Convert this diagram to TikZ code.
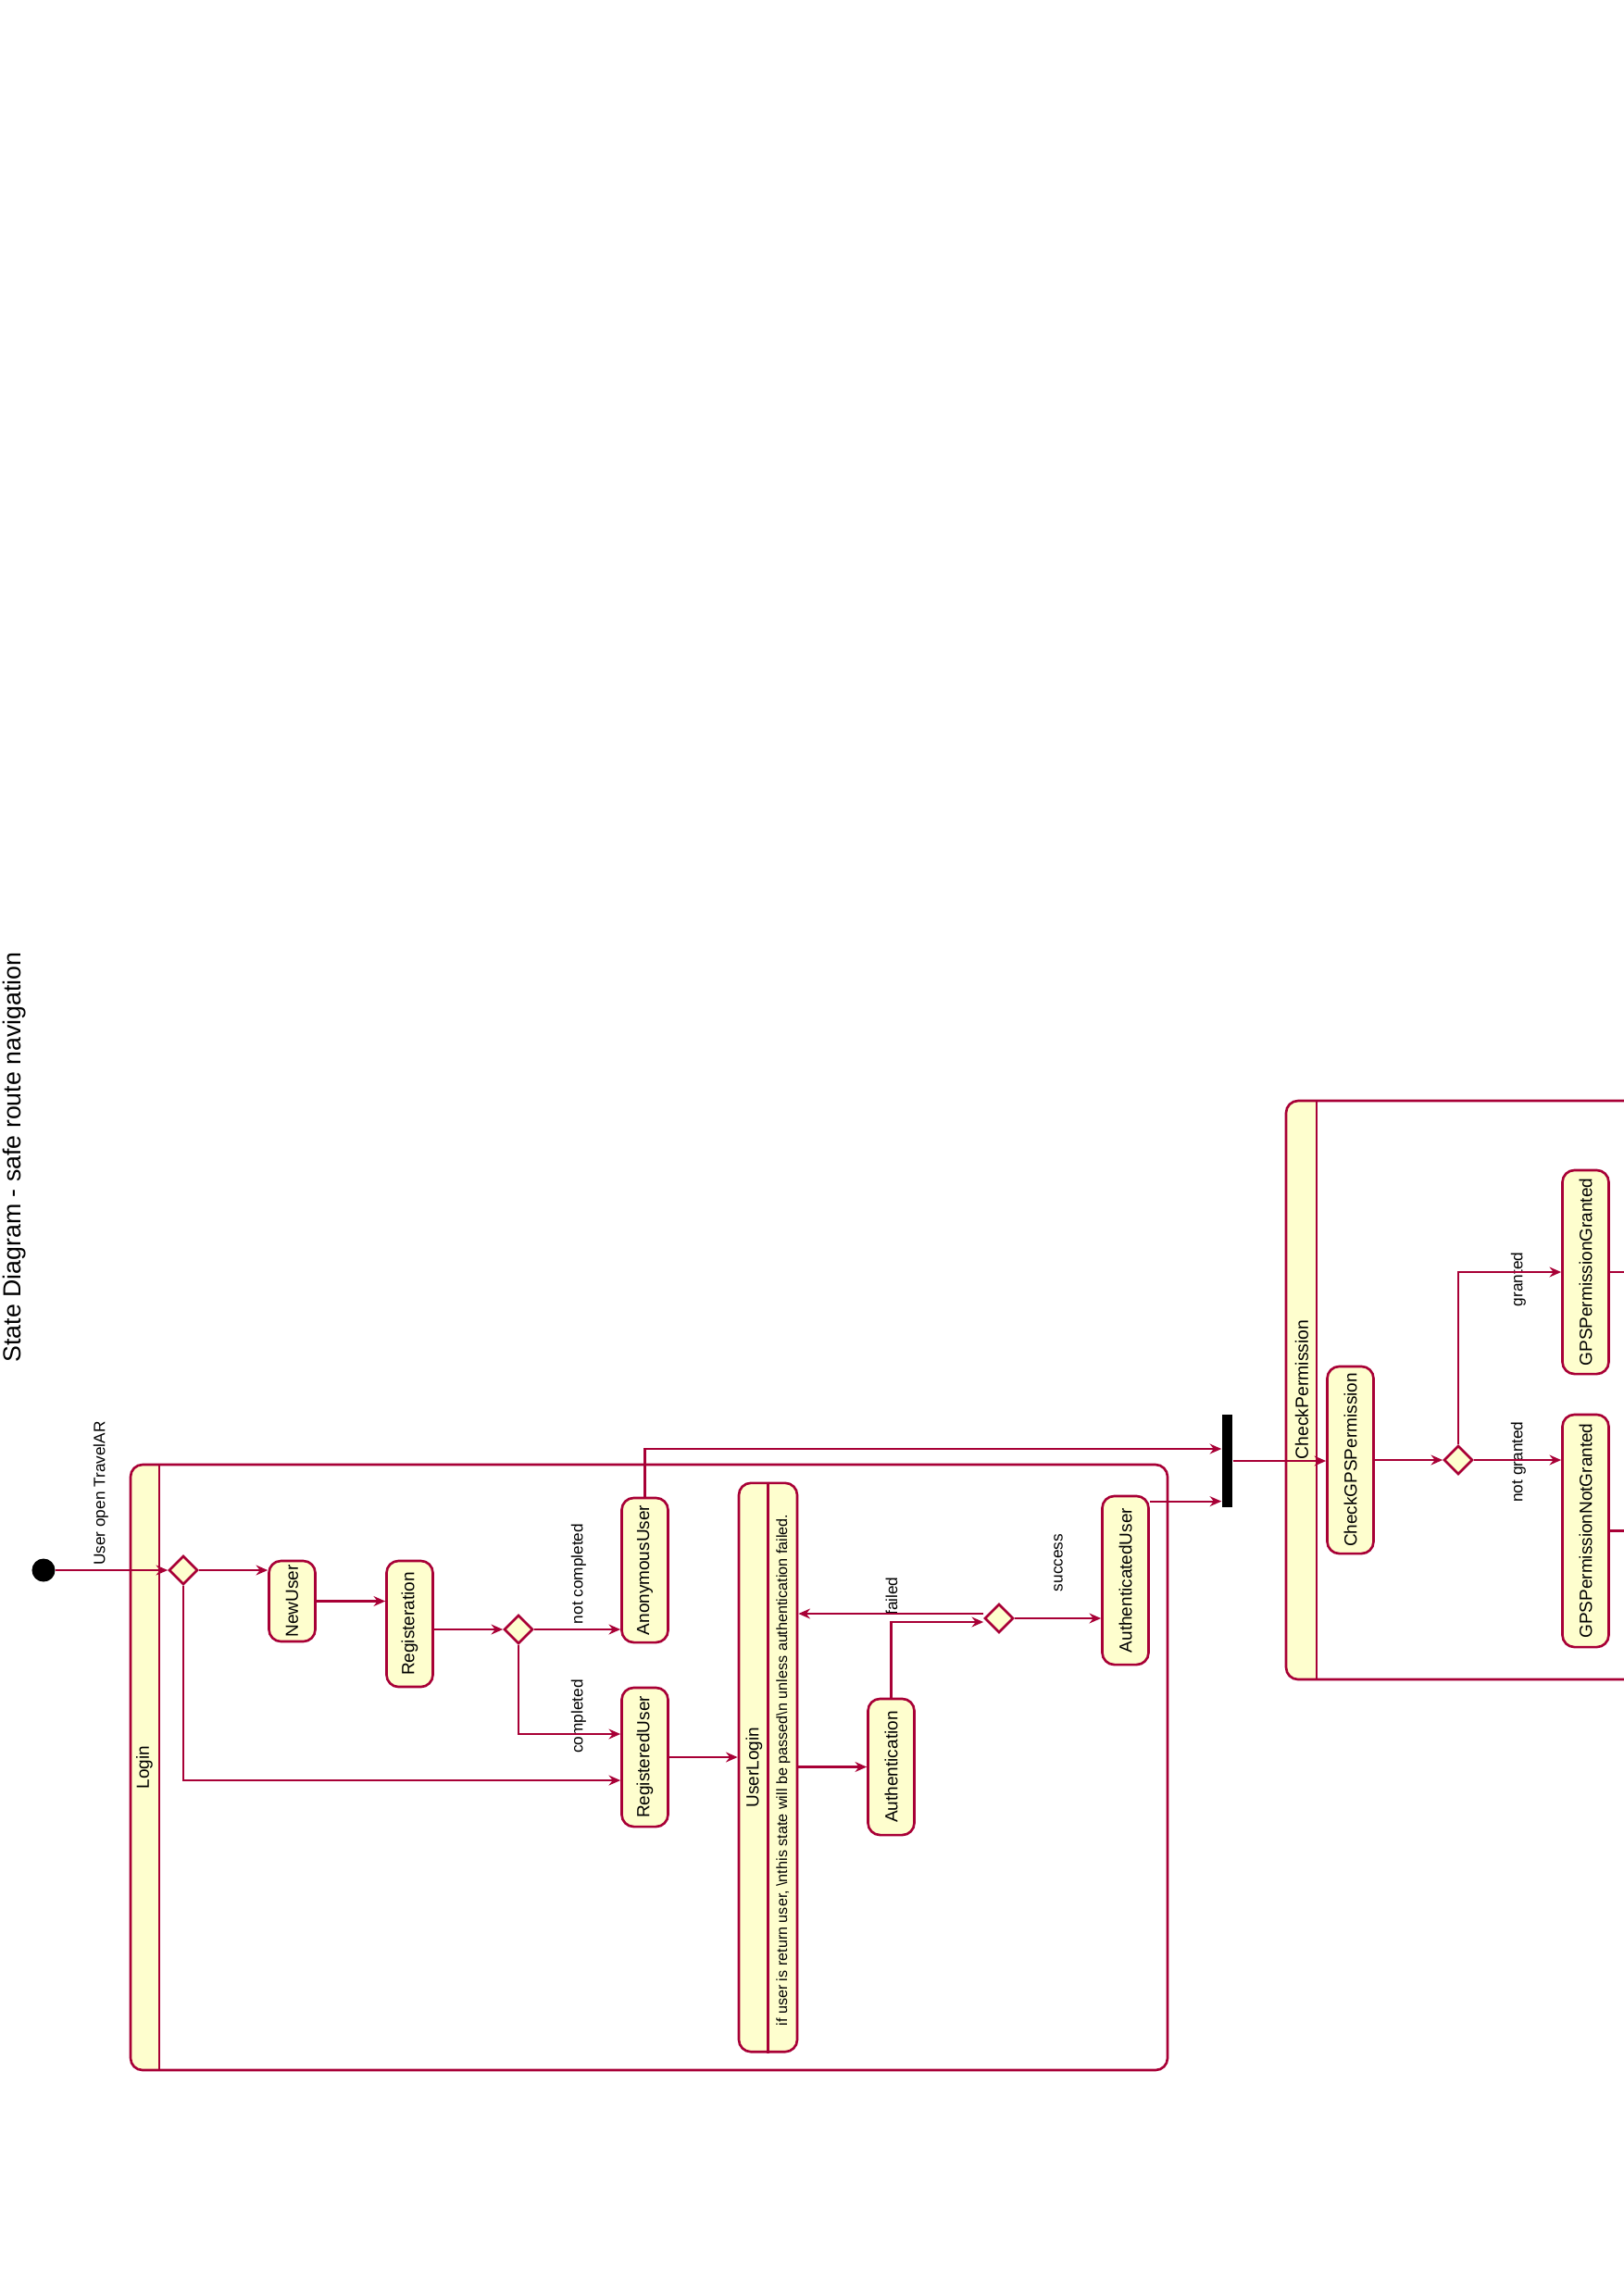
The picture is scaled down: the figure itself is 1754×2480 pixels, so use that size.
\documentclass[tikz,border=0pt]{standalone}
\usepackage{fontspec}
\setmainfont{Liberation Sans}
\usepackage{graphicx}
\usetikzlibrary{arrows.meta, positioning, shapes.geometric}
\definecolor{umlred}{HTML}{A80036}
\definecolor{umlfill}{HTML}{FEFECE}
\newcommand{\sidetext}[1]{\rotatebox{90}{#1}}

\begin{document}
\begin{tikzpicture}[x=0.01cm, y=-0.01cm,
  state/.style={draw=umlred, fill=umlfill, line width=0.75pt,
                rounded corners=0.13cm, minimum width=0.5cm, inner sep=0pt,
                font=\fontsize{5.4}{6}\selectfont},
  choice/.style={diamond, draw=umlred, fill=umlfill, line width=0.75pt,
                 minimum width=0.31cm, minimum height=0.31cm, inner sep=0pt},
  lbl/.style={inner sep=0pt, font=\fontsize{4.9}{6}\selectfont},
  frame/.style={draw=umlred, line width=0.75pt, rounded corners=0.13cm},
  arr/.style={-{Stealth[length=3.6pt, width=3.1pt, inset=1.2pt]}, draw=umlred,
              line width=0.6pt},
  wire/.style={draw=umlred, line width=0.6pt}
]
  \useasboundingbox (0,0) rectangle (1754,2480);
  \fill[white] (0,0) rectangle (1754,2480);
  \clip (0,0) rectangle (1754,2480);

  % Title
  \node[inner sep=0pt, font=\fontsize{7.6}{9}\selectfont] (title) at (16,1250)
    {\sidetext{State Diagram - safe route navigation}};

  % Login composite
  \begin{scope}
    \clip (141,1582) rectangle (172,2236);
    \fill[umlfill, rounded corners=0.13cm] (141,1582) rectangle (1261,2236);
  \end{scope}
  \draw[frame] (141,1582) rectangle (1261,2236);
  \draw[frame] (172,1582) -- (172,2236);
  \node[inner sep=0pt, font=\fontsize{5.4}{6}\selectfont] (login) at (156,1909) {\sidetext{Login}};

  % CheckPermission composite
  \begin{scope}
    \clip (1389,1189) rectangle (1422,1814);
    \fill[umlfill, rounded corners=0.13cm] (1389,1189) rectangle (1800,1814);
  \end{scope}
  \draw[frame] (1389,1189) rectangle (1800,1814);
  \draw[frame] (1422,1189) -- (1422,1814);
  \node[inner sep=0pt, font=\fontsize{5.5}{6}\selectfont] (checkperm) at (1406,1501) {\sidetext{CheckPermission}};

  % States
  \node[circle, fill=black, minimum size=0.25cm, inner sep=0pt] (start) at (47,1696) {};
  \node[choice] (d1) at (198,1696) {};
  \node[state, minimum height=0.87cm] (newuser) at (315.5,1729.5) {\sidetext{NewUser}};
  \node[state, minimum height=1.36cm] (regist) at (442.5,1754) {\sidetext{Registeration}};
  \node[choice] (d2) at (560,1760) {};
  \node[state, minimum height=1.56cm] (anon) at (696.5,1696) {\sidetext{AnonymousUser}};
  \node[state, minimum height=1.50cm] (reguser) at (696.5,1898) {\sidetext{RegisteredUser}};
  \node[state, minimum width=0.63cm, minimum height=6.14cm] (userlogin) at (829.5,1909) {};
  \draw[frame] ([xshift=0.33cm]userlogin.north west) -- ([xshift=0.33cm]userlogin.south west);
  \node[inner sep=0pt, font=\fontsize{5.4}{6}\selectfont] (ulname) at (814.5,1909) {\sidetext{UserLogin}};
  \node[inner sep=0pt, font=\fontsize{4.6}{6}\selectfont] (uldesc) at (846,1912)
    {\sidetext{if user is return user, \textbackslash nthis state will be passed\textbackslash n unless authentication failed.}};
  \node[state, minimum height=1.47cm] (auth) at (962.5,1908.5) {\sidetext{Authentication}};
  \node[choice] (d3) at (1079,1748) {};
  \node[state, minimum height=1.82cm] (authuser) at (1215.5,1707) {\sidetext{AuthenticatedUser}};
  \node[fill=black, minimum width=0.11cm, minimum height=1cm, inner sep=0pt] (fork) at (1325.5,1578) {};
  \node[state, minimum height=2.02cm] (checkgps) at (1458.5,1577) {\sidetext{CheckGPSPermission}};
  \node[choice] (d4) at (1575,1577) {};
  \node[state, minimum height=2.20cm] (granted) at (1712.5,1374) {\sidetext{GPSPermissionGranted}};
  \node[state, minimum height=2.51cm] (notgranted) at (1712.5,1653.5) {\sidetext{GPSPermissionNotGranted}};

  % Transition labels
  \node[lbl] (lopen) at (109,1613) {\sidetext{User open TravelAR}};
  \node[lbl] (lnotdone) at (625,1700) {\sidetext{not completed}};
  \node[lbl] (ldone) at (625,1854) {\sidetext{completed}};
  \node[lbl] (lfail) at (963,1724) {\sidetext{failed}};
  \node[lbl] (lok) at (1143,1688) {\sidetext{success}};
  \node[lbl] (lgrant) at (1640,1382) {\sidetext{granted}};
  \node[lbl] (lnogrant) at (1640,1579) {\sidetext{not granted}};

  % Transitions
  \coordinate (ru1) at ([yshift=-0.25cm]reguser.west);
  \coordinate (ru2) at ([yshift=0.25cm]reguser.west);
  \coordinate (fl) at ([yshift=0.05cm]d3.west);
  \coordinate (au1) at ([yshift=-0.07cm]authuser.north east);
  \coordinate (rim) at (1760,0);
  \draw[arr] (start) -- (d1.west);
  \draw[arr] (d1.east) -- (d1.east -| newuser.west);
  \draw[arr] (d1.south) |- (ru1);
  \draw[arr] (newuser.east) -- (newuser.east -| regist.west);
  \draw[arr] (d2.west -| regist.east) -- (d2.west);
  \draw[arr] (d2.east) -- (d2.east -| anon.west);
  \draw[arr] (d2.south) |- (ru2);
  \draw[arr] (reguser.east) -- (reguser.east -| userlogin.west);
  \draw[arr] (auth.west -| userlogin.east) -- (auth.west);
  \draw[arr] (auth.north) |- ([yshift=-0.04cm]d3.west);
  \draw[arr] (fl) -- (fl -| userlogin.east);
  \draw[arr] (d3.east) -- (d3.east -| authuser.west);
  \draw[arr] (anon.north) |- ([yshift=0.13cm]fork.west);
  \draw[arr] (au1) -- (au1 -| fork.west);
  \draw[arr] (fork.east) -- (fork.east -| checkgps.west);
  \draw[arr] (checkgps.east) -- (d4.west);
  \draw[arr] (d4.east) -- (d4.east -| notgranted.west);
  \draw[arr] (d4.north) |- (granted.west);
  \draw[wire] (granted.east) -- (granted.east -| rim);
  \draw[wire] (notgranted.east) -- (notgranted.east -| rim);
\end{tikzpicture}
\end{document}
